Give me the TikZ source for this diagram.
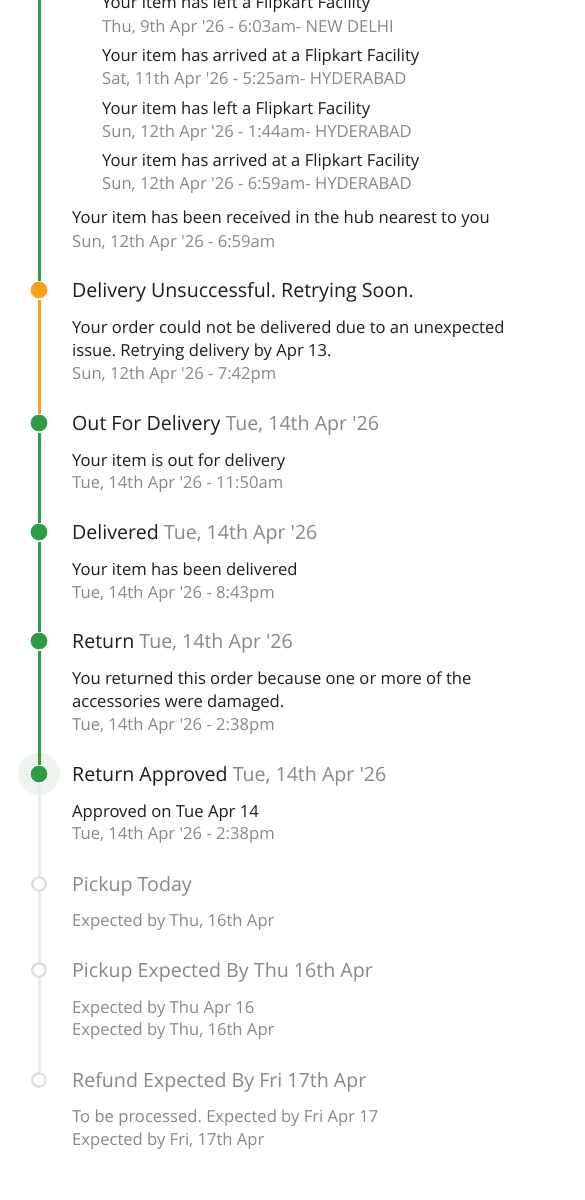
\documentclass[tikz,border=0pt]{standalone}
\usepackage{fontspec}
\setmainfont{Open Sans}[Ligatures=TeXOff]
\usepackage{tikz}
\usetikzlibrary{positioning}

\definecolor{fkgreen}{HTML}{2A9D46}
\definecolor{fkorange}{HTML}{F7A11D}
\definecolor{fkline}{HTML}{ECECEC}
\definecolor{fkring}{HTML}{DDDDDD}
\definecolor{fkgray}{HTML}{888888}
\definecolor{fkink}{HTML}{1C1C1C}
\definecolor{fkhalo}{HTML}{EEF5EF}

\begin{document}
\frenchspacing
\begin{tikzpicture}[
x=1pt, y=-1pt,
msg/.style={
		anchor=mid west,
		inner sep=0pt,
		yshift=-4pt,
		text=fkink,
		font=\fontsize{16.6}{19}\selectfont,
		},
when/.style={msg, text=fkgray},
head/.style={msg, yshift=-0.5pt, font=\fontsize{19.6}{23}\selectfont},
later/.style={head, text=fkgray},
dot/.style={circle, fill=#1, draw=white, line width=1pt, minimum size=18pt, inner sep=0pt},
todo/.style={circle, fill=white, draw=fkring, line width=2.2pt, minimum size=13.5pt, inner sep=0pt},
track/.style={line width=3pt}
]

\def \railx {39}
\def \textx {72}
\def \subx {102}
\def \substep {52.6}

\useasboundingbox (0,0) rectangle (585,1200);

% hops between facilities
\foreach \what/\stamp [count=\i] in {
  {Your item has left a Flipkart Facility}/{Thu, 9th Apr '26 - 6:03am- NEW DELHI},
  {Your item has arrived at a Flipkart Facility}/{Sat, 11th Apr '26 - 5:25am- HYDERABAD},
  {Your item has left a Flipkart Facility}/{Sun, 12th Apr '26 - 1:44am- HYDERABAD},
  {Your item has arrived at a Flipkart Facility}/{Sun, 12th Apr '26 - 6:59am- HYDERABAD}}
{
  \node[msg] (hop\i) at (\subx, {2.3 + \substep*(\i-1)}) {\what};
  \node[when] (hopw\i) at (\subx, {25.5 + \substep*(\i-1)}) {\stamp};
}

\node[msg] (hub) at (\textx,217) {Your item has been received in the hub nearest to you};
\node[when] (hubw) at (\textx,241) {Sun, 12th Apr '26 - 6:59am};

% steps of the rail
\coordinate (top) at (\railx,0);
\node[circle, fill=fkhalo, minimum size=42pt, inner sep=0pt] (halo) at (\railx,774) {};

\node[dot=fkorange] (fail) at (\railx,290) {};
\node[dot=fkgreen] (ofd) at (\railx,423) {};
\node[dot=fkgreen] (dlv) at (\railx,532) {};
\node[dot=fkgreen] (ret) at (\railx,641) {};
\node[dot=fkgreen] (appr) at (\railx,774) {};
\node[todo] (pick) at (\railx,884) {};
\node[todo] (pickby) at (\railx,970) {};
\node[todo] (refund) at (\railx,1080) {};

\draw[track, fkgreen] (top) -- (fail);
\draw[track, fkorange] (fail) -- (ofd);
\draw[track, fkgreen] (ofd) -- (dlv) -- (ret) -- (appr);
\draw[track, fkline] (appr) -- (pick) -- (pickby) -- (refund);

% texts of the steps
\node[head] (failh) at (\textx,290) {Delivery Unsuccessful. Retrying Soon.};
\node[msg] (failm1) at (\textx,327) {Your order could not be delivered due to an unexpected};
\node[msg] (failm2) at (\textx,350) {issue. Retrying delivery by Apr 13.};
\node[when] (failw) at (\textx,373) {Sun, 12th Apr '26 - 7:42pm};

\node[head] (ofdh) at (\textx,423) {Out For Delivery \textcolor{fkgray}{Tue, 14th Apr '26}};
\node[msg] (ofdm) at (\textx,460) {Your item is out for delivery};
\node[when] (ofdw) at (\textx,482) {Tue, 14th Apr '26 - 11:50am};

\node[head] (dlvh) at (\textx,532) {Delivered \textcolor{fkgray}{Tue, 14th Apr '26}};
\node[msg] (dlvm) at (\textx,569) {Your item has been delivered};
\node[when] (dlvw) at (\textx,592) {Tue, 14th Apr '26 - 8:43pm};

\node[head] (reth) at (\textx,641) {Return \textcolor{fkgray}{Tue, 14th Apr '26}};
\node[msg] (retm1) at (\textx,678) {You returned this order because one or more of the};
\node[msg] (retm2) at (\textx,701) {accessories were damaged.};
\node[when] (retw) at (\textx,724) {Tue, 14th Apr '26 - 2:38pm};

\node[head] (apprh) at (\textx,774) {Return Approved \textcolor{fkgray}{Tue, 14th Apr '26}};
\node[msg] (apprm) at (\textx,811) {Approved on Tue Apr 14};
\node[when] (apprw) at (\textx,833) {Tue, 14th Apr '26 - 2:38pm};

\node[later] (pickh) at (\textx,884) {Pickup Today};
\node[when] (pickw) at (\textx,920) {Expected by Thu, 16th Apr};

\node[later] (pickbyh) at (\textx,970) {Pickup Expected By Thu 16th Apr};
\node[when] (pickbym) at (\textx,1007) {Expected by Thu Apr 16};
\node[when] (pickbyw) at (\textx,1029) {Expected by Thu, 16th Apr};

\node[later] (refundh) at (\textx,1080) {Refund Expected By Fri 17th Apr};
\node[when] (refundm) at (\textx,1116) {To be processed. Expected by Fri Apr 17};
\node[when] (refundw) at (\textx,1139) {Expected by Fri, 17th Apr};
\end{tikzpicture}
\end{document}
